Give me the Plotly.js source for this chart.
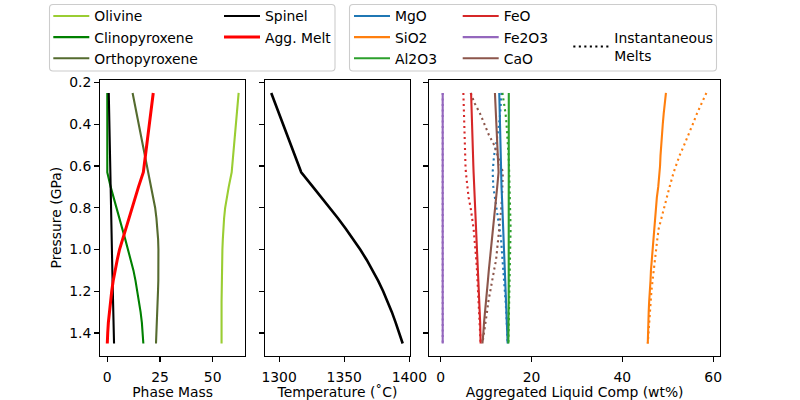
<!DOCTYPE html>
<html>
<head>
<meta charset="utf-8">
<script src="https://cdn.plot.ly/plotly-3.0.1.min.js"></script>
<style>
  html, body { margin: 0; padding: 0; background: #fff; }
  #chart { width: 800px; height: 400px; }
</style>
</head>
<body>
<div id="chart"></div>
<script>
// Pressure steps of the decompression path (GPa)
const pressure = [0.25, 0.30, 0.35, 0.40, 0.45, 0.50, 0.55, 0.60, 0.63, 0.70, 0.75, 0.80, 0.85,
                  0.90, 0.95, 1.00, 1.05, 1.10, 1.15, 1.20, 1.25, 1.30, 1.35, 1.40, 1.45];

// Phase masses
const olivine = [62.3, 61.9, 61.4, 61.0, 60.6, 60.1, 59.7, 59.3, 59.0, 57.6, 56.6, 55.9, 55.4,
                 55.0, 54.8, 54.6, 54.45, 54.35, 54.3, 54.25, 54.2, 54.2, 54.2, 54.2, 54.2];
const clinopyroxene = [0, 0, 0, 0, 0, 0, 0, 0, 0, 1.6, 2.9, 4.2, 5.6,
                       7.1, 8.5, 9.9, 11.2, 12.4, 13.4, 14.3, 15.1, 15.8, 16.4, 16.8, 17.1];
const orthopyroxene = [12.0, 13.0, 14.0, 15.0, 16.0, 16.9, 17.9, 18.8, 19.4, 21.0, 21.9, 22.7, 23.3,
                       23.8, 24.1, 24.25, 24.3, 24.3, 24.2, 24.05, 23.9, 23.7, 23.5, 23.3, 23.1];
const spinel = [0.7, 0.78, 0.86, 0.94, 1.02, 1.1, 1.18, 1.26, 1.3, 1.46, 1.58, 1.7, 1.81,
                1.93, 2.04, 2.16, 2.27, 2.39, 2.5, 2.62, 2.73, 2.85, 2.96, 3.08, 3.2];
const aggMelt = [21.8, 21.2, 20.5, 19.9, 19.3, 18.7, 18.1, 17.5, 17.1, 14.8, 13.3, 11.7, 10.1,
                 8.6, 7.1, 5.8, 4.7, 3.7, 2.8, 2.1, 1.5, 0.95, 0.5, 0.2, 0.0];

// Temperature (deg C)
const temperature = [1294.0, 1297.0, 1300.0, 1303.0, 1306.1, 1309.1, 1312.1, 1315.2, 1317.0, 1326.0,
                     1332.5, 1338.9, 1345.2, 1351.2, 1356.9, 1362.3, 1367.3, 1371.9, 1376.1, 1379.9,
                     1383.4, 1386.6, 1389.5, 1392.3, 1394.9];

// Aggregated liquid composition (wt%)
const mgoAgg = [12.9, 12.95, 12.97, 13.0, 13.02, 13.05, 13.1, 13.2, 13.25, 13.4, 13.5, 13.6, 13.7,
                13.8, 13.9, 14.0, 14.1, 14.2, 14.3, 14.4, 14.5, 14.55, 14.65, 14.7, 14.75];
const sio2Agg = [49.6, 49.3, 49.1, 48.9, 48.7, 48.6, 48.4, 48.3, 48.2, 47.9, 47.6, 47.4, 47.2,
                 47.0, 46.8, 46.6, 46.5, 46.3, 46.2, 46.0, 45.9, 45.8, 45.75, 45.7, 45.6];
const al2o3Agg = [15.0, 15.0, 15.02, 15.03, 15.05, 15.06, 15.08, 15.09, 15.1, 15.1, 15.1, 15.12, 15.12,
                  15.12, 15.1, 15.1, 15.08, 15.05, 15.02, 15.0, 14.98, 14.95, 14.92, 14.9, 14.9];
const feoAgg = [6.7, 6.75, 6.8, 6.9, 6.95, 7.05, 7.1, 7.2, 7.25, 7.4, 7.5, 7.65, 7.75,
                7.85, 7.95, 8.05, 8.15, 8.25, 8.35, 8.45, 8.5, 8.6, 8.7, 8.75, 8.8];
const fe2o3Agg = [0.45, 0.45, 0.45, 0.45, 0.45, 0.45, 0.45, 0.45, 0.45, 0.45, 0.45, 0.45, 0.45,
                  0.45, 0.45, 0.45, 0.45, 0.45, 0.45, 0.45, 0.45, 0.45, 0.45, 0.45, 0.45];
const caoAgg = [11.95, 12.05, 12.15, 12.25, 12.35, 12.45, 12.55, 12.7, 12.75, 12.45, 12.2, 11.95, 11.7,
                11.5, 11.25, 11.05, 10.8, 10.6, 10.4, 10.15, 9.95, 9.75, 9.55, 9.4, 9.2];

// Instantaneous melt composition (wt%)
const mgoInst = [13.4, 13.3, 13.1, 12.85, 12.55, 12.2, 11.75, 11.5, 11.45, 11.6, 11.95, 12.3, 12.75,
                 13.1, 13.3, 13.45, 13.65, 13.85, 14.0, 14.15, 14.3, 14.45, 14.55, 14.65, 14.75];
const sio2Inst = [58.5, 57.4, 56.4, 55.5, 54.6, 53.6, 52.6, 51.8, 51.3, 50.4, 49.8, 49.1, 48.5,
                  48.0, 47.7, 47.4, 47.1, 46.85, 46.65, 46.4, 46.25, 46.1, 45.95, 45.8, 45.6];
const al2o3Inst = [13.6, 14.0, 14.3, 14.5, 14.7, 14.85, 14.95, 15.05, 15.1, 15.2, 15.3, 15.35, 15.4,
                   15.4, 15.35, 15.3, 15.25, 15.2, 15.15, 15.1, 15.05, 15.0, 14.95, 14.9, 14.9];
const feoInst = [5.0, 5.05, 5.1, 5.17, 5.22, 5.3, 5.38, 5.47, 5.55, 5.85, 6.15, 6.6, 6.95,
                 7.25, 7.45, 7.7, 7.85, 8.0, 8.1, 8.2, 8.35, 8.45, 8.55, 8.65, 8.8];
const fe2o3Inst = [0.45, 0.45, 0.45, 0.45, 0.45, 0.45, 0.45, 0.45, 0.45, 0.45, 0.45, 0.45, 0.45,
                   0.45, 0.45, 0.45, 0.45, 0.45, 0.45, 0.45, 0.45, 0.45, 0.45, 0.45, 0.45];
const caoInst = [6.6, 7.5, 8.7, 9.7, 10.6, 11.8, 12.6, 13.3, 13.7, 13.65, 13.5, 13.35, 13.15,
                 12.95, 12.7, 12.45, 12.2, 11.75, 11.3, 10.9, 10.5, 10.2, 9.85, 9.5, 9.2];

const pressureTicks = [0.2, 0.4, 0.6, 0.8, 1.0, 1.2, 1.4];

const FONT = 'DejaVu Sans, sans-serif';
const FS = 13.9;
const W = 800, H = 400;
// plot-area box in pixels
const M = { l: 100, r: 80, t: 80, b: 44 };
const PW = W - M.l - M.r, PH = H - M.t - M.b;
// pixel -> container fraction
const cx = v => v / W;
const cy = v => 1 - v / H;
// pixel -> paper fraction
const pxp = v => (v - M.l) / PW;
const pyp = v => (H - M.b - v) / PH;

function line(x, name, color, width, xa, ya, legend, dash) {
  return {
    x: x, y: pressure, name: name, type: 'scatter', mode: 'lines',
    xaxis: xa, yaxis: ya, legend: legend || 'legend',
    showlegend: !!legend,
    line: { color: color, width: width, dash: dash || 'solid' },
    hoverinfo: 'skip'
  };
}

const DOT = '2.1px,3.4px';
const C = {
  mgo: '#1f77b4', sio2: '#ff7f0e', al2o3: '#2ca02c',
  feo: '#d62728', fe2o3: '#9467bd', cao: '#8c564b'
};

const traces = [
  // panel 1: phase masses
  line(olivine, 'Olivine', '#9acd32', 2.1, 'x', 'y', 'legend'),
  line(clinopyroxene, 'Clinopyroxene', '#008000', 2.1, 'x', 'y', 'legend'),
  line(orthopyroxene, 'Orthopyroxene', '#556b2f', 2.1, 'x', 'y', 'legend'),
  line(spinel, 'Spinel', '#000000', 2.1, 'x', 'y', 'legend2'),
  line(aggMelt, 'Agg. Melt', '#ff0000', 3.0, 'x', 'y', 'legend2'),
  // panel 2: temperature
  line(temperature, 'Temperature', '#000000', 2.6, 'x2', 'y2', null),
  // panel 3: instantaneous melts (dotted)
  line(mgoInst, 'MgO inst', C.mgo, 2.1, 'x3', 'y3', null, DOT),
  line(sio2Inst, 'SiO2 inst', C.sio2, 2.1, 'x3', 'y3', null, DOT),
  line(al2o3Inst, 'Al2O3 inst', C.al2o3, 2.1, 'x3', 'y3', null, DOT),
  line(feoInst, 'FeO inst', C.feo, 2.1, 'x3', 'y3', null, DOT),
  line(fe2o3Inst, 'Fe2O3 inst', C.fe2o3, 2.1, 'x3', 'y3', null, DOT),
  line(caoInst, 'CaO inst', C.cao, 2.1, 'x3', 'y3', null, DOT),
  // panel 3: aggregated liquid
  line(mgoAgg, 'MgO', C.mgo, 2.1, 'x3', 'y3', 'legend3'),
  line(sio2Agg, 'SiO2', C.sio2, 2.1, 'x3', 'y3', 'legend3'),
  line(al2o3Agg, 'Al2O3', C.al2o3, 2.1, 'x3', 'y3', 'legend3'),
  line(feoAgg, 'FeO', C.feo, 2.1, 'x3', 'y3', 'legend4'),
  line(fe2o3Agg, 'Fe2O3', C.fe2o3, 2.1, 'x3', 'y3', 'legend4'),
  line(caoAgg, 'CaO', C.cao, 2.1, 'x3', 'y3', 'legend4'),
  // legend key for the dotted style
  {
    x: [null], y: [null], name: 'Instantaneous<br>Melts', type: 'scatter', mode: 'lines',
    xaxis: 'x3', yaxis: 'y3', legend: 'legend5', showlegend: true,
    line: { color: '#000000', width: 2.1, dash: DOT }, hoverinfo: 'skip'
  }
];

const axisBase = {
  showline: true, linecolor: '#000', linewidth: 1.1, mirror: true,
  ticks: 'outside', ticklen: 4.9, tickwidth: 1.1, tickcolor: '#000',
  showgrid: false, zeroline: false, automargin: false,
  tickfont: { family: FONT, size: FS, color: '#000' },
  fixedrange: true
};

function xAxis(x0, x1, range, tickvals, title, anchor) {
  return Object.assign({}, axisBase, {
    domain: [pxp(x0), pxp(x1)], range: range, tickmode: 'array', tickvals: tickvals,
    anchor: anchor, ticklabelstandoff: 3,
    title: { text: title, font: { family: FONT, size: FS, color: '#000' }, standoff: 3 }
  });
}

function yAxis(anchor, labels) {
  return Object.assign({}, axisBase, {
    domain: [0, 1], range: [1.51, 0.188],
    tickmode: 'array', tickvals: pressureTicks, tickformat: '.1f',
    showticklabels: labels, anchor: anchor
  });
}

function legendAt(x, y) {
  return {
    xref: 'container', yref: 'container', x: cx(x), y: cy(y),
    xanchor: 'left', yanchor: 'top',
    bgcolor: 'rgba(0,0,0,0)', borderwidth: 0, itemwidth: 36,
    font: { family: FONT, size: FS, color: '#000' },
    orientation: 'v', tracegroupgap: 0, itemclick: false, itemdoubleclick: false
  };
}

// rounded frame behind each legend group
function roundedBox(x0, y0, x1, y1, r) {
  const X = v => pxp(v), Y = v => pyp(v);
  const path = [
    'M', X(x0 + r), Y(y0),
    'L', X(x1 - r), Y(y0),
    'Q', X(x1), Y(y0), X(x1), Y(y0 + r),
    'L', X(x1), Y(y1 - r),
    'Q', X(x1), Y(y1), X(x1 - r), Y(y1),
    'L', X(x0 + r), Y(y1),
    'Q', X(x0), Y(y1), X(x0), Y(y1 - r),
    'L', X(x0), Y(y0 + r),
    'Q', X(x0), Y(y0), X(x0 + r), Y(y0), 'Z'
  ].join(' ');
  return {
    type: 'path', xref: 'paper', yref: 'paper', path: path,
    fillcolor: 'rgba(255,255,255,0.8)', line: { color: '#cccccc', width: 1.1 },
    layer: 'above'
  };
}

const layout = {
  width: W, height: H,
  margin: { l: M.l, r: M.r, t: M.t, b: M.b, pad: 0, autoexpand: false },
  paper_bgcolor: '#fff', plot_bgcolor: '#fff',
  font: { family: FONT, size: FS, color: '#000' },
  xaxis: xAxis(100, 245.3, [-3.46, 65.46], [0, 25, 50], 'Phase Mass', 'y'),
  xaxis2: xAxis(265, 410, [1289.2, 1400.5], [1300, 1350, 1400], 'Temperature (˚C)', 'y2'),
  xaxis3: xAxis(429.3, 720, [-2.5, 61.5], [0, 20, 40, 60], 'Aggregated Liquid Comp (wt%)', 'y3'),
  yaxis: yAxis('x', true),
  yaxis2: yAxis('x2', false),
  yaxis3: yAxis('x3', false),
  // shared pressure axis label, left of the first panel
  annotations: [{
    text: 'Pressure (GPa)', xref: 'paper', yref: 'paper',
    x: pxp(55.5), y: 0.5, xanchor: 'center', yanchor: 'middle',
    textangle: -90, showarrow: false,
    font: { family: FONT, size: FS, color: '#000' }
  }],
  legend: legendAt(48.3, 0.5),
  legend2: legendAt(219, 0.5),
  legend3: legendAt(349, 0.5),
  legend4: legendAt(457.7, 0.5),
  legend5: legendAt(568.3, 22),
  shapes: [
    roundedBox(49.5, 4.5, 335, 71, 3.5),
    roundedBox(349.5, 4.5, 716.5, 71, 3.5)
  ],
  showlegend: true
};

Plotly.newPlot('chart', traces, layout, { staticPlot: true, displayModeBar: false });
</script>
</body>
</html>
